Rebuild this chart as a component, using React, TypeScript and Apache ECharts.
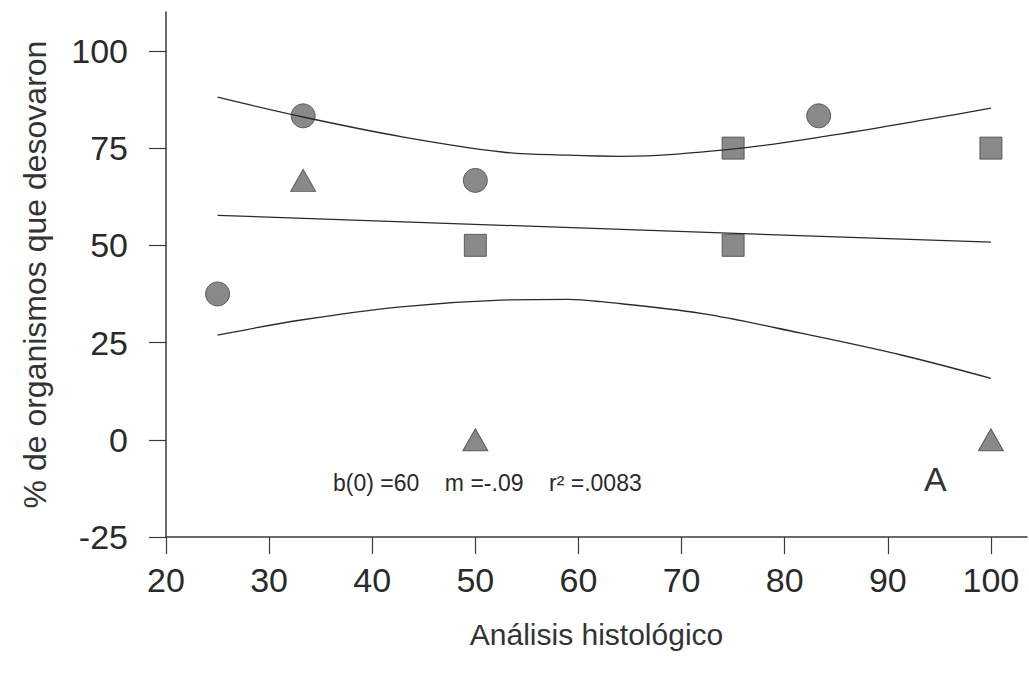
import React, { useEffect, useRef } from "react";
import * as echarts from "echarts";

const xTicks = [20, 30, 40, 50, 60, 70, 80, 90, 100];
const yTicks = [-25, 0, 25, 50, 75, 100];

const circles = [[25, 37.5], [33.3, 83.3], [50, 66.7], [83.3, 83.3]];
const squares = [[50, 50], [75, 75], [75, 50], [100, 75]];
const triangles = [[33.3, 66.7], [50, 0], [100, 0]];

const regressionLine = [[25, 57.7], [100, 50.8]];
const upperBand = [
  [25, 88.1], [33.3, 83.0], [42.9, 77.9], [52.6, 74.0], [59, 73.2],
  [64, 72.9], [75.1, 74.8], [84.8, 78.4], [94.5, 82.7], [100, 85.3],
];
const lowerBand = [
  [25, 26.9], [33.1, 30.8], [42.8, 34.2], [52.5, 35.9], [59, 36.1],
  [62.2, 35.5], [71.9, 32.5], [81.6, 27.4], [91.3, 21.8], [100, 15.8],
];

const annotation = "b(0) =60    m =-.09    r² =.0083";
const panelLetter = "A";

const FONT = "Liberation Sans, Arial, Helvetica, sans-serif";
const markerStyle = { color: "#6b6b6b", borderColor: "#444444", borderWidth: 1 };
const lineStyle = { color: "#2a2a2a", width: 1.3 };

export default function App() {
  const ref = useRef<HTMLDivElement>(null);
  useEffect(() => {
    if (!ref.current) return;
    const chart = echarts.init(ref.current, null, { renderer: "svg" });
    chart.setOption({
      animation: false,
      backgroundColor: "#ffffff",
      grid: { left: 166, right: 2, top: 12, bottom: 138, containLabel: false, outerBoundsMode: "none" },
      xAxis: {
        type: "value",
        min: 20,
        max: 103.5,
        name: "Análisis histológico",
        nameLocation: "middle",
        nameGap: 82,
        nameTextStyle: { fontFamily: FONT, fontSize: 30, color: "#333" },
        splitLine: { show: false },
        axisLine: { show: true, onZero: false, lineStyle: { color: "#3a3a3a", width: 1.5 } },
        axisTick: { show: true, length: 17, customValues: xTicks, lineStyle: { color: "#3a3a3a", width: 1.2 } },
        axisLabel: { customValues: xTicks, margin: 26, fontFamily: FONT, fontSize: 34, color: "#2a2a2a" },
      },
      yAxis: {
        type: "value",
        min: -25,
        max: 110,
        name: "% de organismos que desovaron",
        nameLocation: "middle",
        nameGap: 115,
        nameRotate: 90,
        nameTextStyle: { fontFamily: FONT, fontSize: 32, color: "#333" },
        splitLine: { show: false },
        axisLine: { show: true, onZero: false, lineStyle: { color: "#3a3a3a", width: 1.5 } },
        axisTick: { show: true, length: 17, customValues: yTicks, lineStyle: { color: "#3a3a3a", width: 1.2 } },
        axisLabel: { customValues: yTicks, margin: 38, fontFamily: FONT, fontSize: 34, color: "#2a2a2a" },
      },
      graphic: [
        {
          type: "text",
          left: 333,
          top: 471,
          style: { text: annotation, fontFamily: FONT, fontSize: 23, fill: "#2a2a2a" },
        },
        {
          type: "text",
          left: 924,
          top: 462,
          style: { text: panelLetter, fontFamily: FONT, fontSize: 34, fill: "#333" },
        },
      ],
      series: [
        { type: "line", data: upperBand, smooth: 0.35, showSymbol: false, lineStyle, silent: true },
        { type: "line", data: regressionLine, showSymbol: false, lineStyle, silent: true },
        { type: "line", data: lowerBand, smooth: 0.35, showSymbol: false, lineStyle, silent: true },
        { type: "scatter", data: circles, symbol: "circle", symbolSize: 24, itemStyle: markerStyle },
        { type: "scatter", data: squares, symbol: "rect", symbolSize: 22, itemStyle: markerStyle },
        { type: "scatter", data: triangles, symbol: "triangle", symbolSize: [25, 22], itemStyle: markerStyle },
      ],
    });
    return () => chart.dispose();
  }, []);
  return <div ref={ref} style={{ width: 1029, height: 675, position: "absolute", left: 0, top: 0 }} />;
}
